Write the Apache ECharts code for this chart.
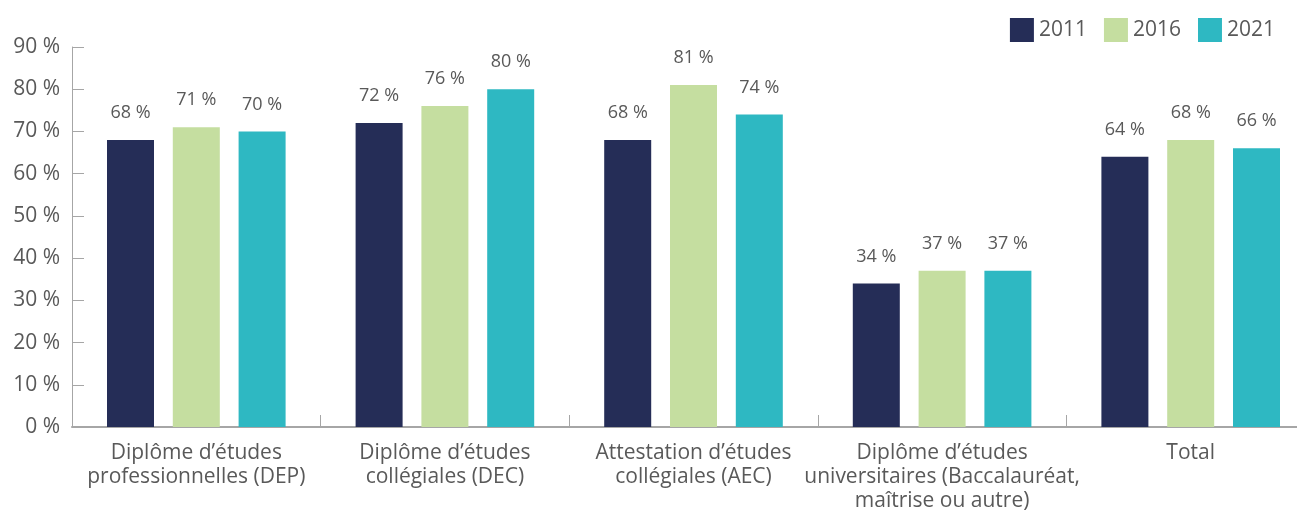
<!DOCTYPE html>
<html>
<head>
<meta charset="utf-8">
<script src="https://cdn.jsdelivr.net/npm/echarts@6/dist/echarts.min.js"></script>
<style>
html,body{margin:0;padding:0;background:#fff;}
#c{width:1297px;height:513px;}
</style>
</head>
<body>
<div id="c"></div>
<script>
const categories = [
  "Diplôme d’études\nprofessionnelles (DEP)",
  "Diplôme d’études\ncollégiales (DEC)",
  "Attestation d’études\ncollégiales (AEC)",
  "Diplôme d’études\nuniversitaires (Baccalauréat,\nmaîtrise ou autre)",
  "Total"
];
const seriesNames = ["2011", "2016", "2021"];
const values2011 = [68, 72, 68, 34, 64];
const values2016 = [71, 76, 81, 37, 68];
const values2021 = [70, 80, 74, 37, 66];
const colors = ["#252D57", "#C5DEA0", "#2EB8C2"];

const font = "'Open Sans', 'Noto Sans', sans-serif";
const txt = "#595959";
const axisCol = "#A6A6A6";

const chart = echarts.init(document.getElementById('c'));
const data = [values2011, values2016, values2021];
chart.setOption({
  animation: false,
  textStyle: { fontFamily: font },
  legend: {
    top: 13, right: 17,
    itemWidth: 24, itemHeight: 24, itemGap: 17,
    icon: 'rect',
    textStyle: { fontFamily: font, fontSize: 21, color: txt },
    data: seriesNames
  },
  grid: { left: 72, width: 1243, top: 47, height: 380, containLabel: false, outerBoundsMode: 'none' },
  xAxis: {
    type: 'category',
    data: categories,
    axisLine: { lineStyle: { color: axisCol, width: 2 } },
    axisTick: { show: true, inside: true, length: 12, alignWithLabel: false, lineStyle: { color: axisCol, width: 1 } },
    axisLabel: { fontFamily: font, fontSize: 21, color: txt, margin: 14, lineHeight: 24, interval: 0 }
  },
  yAxis: {
    type: 'value', min: 0, max: 90, interval: 10,
    splitLine: { show: false },
    axisLine: { show: true, lineStyle: { color: axisCol, width: 1 } },
    axisTick: { show: true, inside: true, length: 12, lineStyle: { color: axisCol } },
    axisLabel: { fontFamily: font, fontSize: 21, color: txt, margin: 12, formatter: '{value} %' }
  },
  series: seriesNames.map((n, i) => ({
    name: n, type: 'bar', data: data[i],
    itemStyle: { color: colors[i] },
    barWidth: 47, barGap: '40%',
    label: { show: true, position: 'top', distance: 18, fontFamily: font, fontSize: 18, color: txt, formatter: '{c} %' }
  }))
});
</script>
</body>
</html>
